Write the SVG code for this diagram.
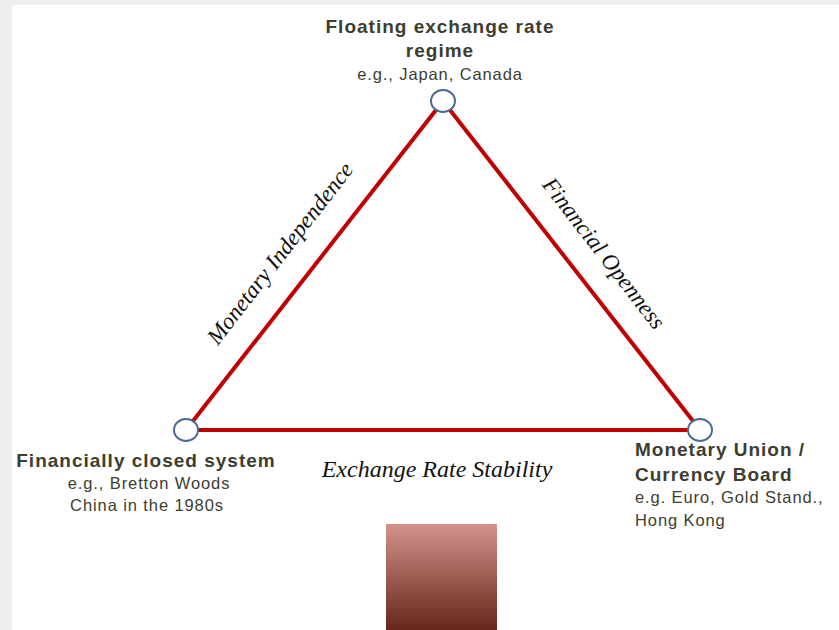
<svg xmlns="http://www.w3.org/2000/svg" width="839" height="630" viewBox="0 0 839 630">
  <style>
    .title { font-family: "Liberation Sans", Arial, sans-serif; font-weight: bold; font-size: 19px; letter-spacing: 1px; fill: #3d3d30; }
    .sub { font-family: "Liberation Sans", Arial, sans-serif; font-size: 16.5px; letter-spacing: 0.9px; fill: #3d3d30; }
    .edge-label { font-family: "Liberation Serif", "Times New Roman", serif; font-style: italic; font-size: 23px; fill: #111; }
    .edge { stroke: #c00000; stroke-width: 4; stroke-linecap: round; fill: none; }
    .node { fill: #ffffff; stroke: #4a6a96; stroke-width: 2; }
  </style>
  <defs>
    <linearGradient id="boxFill" x1="0" y1="0" x2="0" y2="1">
      <stop offset="0" stop-color="#d4938b"/>
      <stop offset="1" stop-color="#66261a"/>
    </linearGradient>
  </defs>

  <!-- page background and panel -->
  <rect x="0" y="0" width="839" height="630" fill="#eeeeee"/>
  <rect x="12" y="5" width="827" height="625" fill="#ffffff"/>

  <!-- triangle sides -->
  <g id="connectors">
    <line class="edge" x1="436" y1="110" x2="193" y2="421"/>
    <line class="edge" x1="450" y1="110" x2="693" y2="421"/>
    <line class="edge" x1="198" y1="430" x2="688" y2="430"/>
    <text class="edge-label" transform="translate(286,258) rotate(-52.2)" text-anchor="middle">Monetary Independence</text>
    <text class="edge-label" transform="translate(598,258) rotate(52.2)" text-anchor="middle">Financial Openness</text>
    <text class="edge-label" x="437" y="477" text-anchor="middle" style="font-size:24px">Exchange Rate Stability</text>
  </g>

  <g id="floating">
    <ellipse class="node" cx="443" cy="101" rx="12" ry="11"/>
    <text class="title" x="440" y="33" text-anchor="middle">Floating exchange rate</text>
    <text class="title" x="440" y="57" text-anchor="middle">regime</text>
    <text class="sub" x="440" y="80" text-anchor="middle">e.g., Japan, Canada</text>
  </g>

  <g id="closed">
    <ellipse class="node" cx="186" cy="430" rx="12" ry="11"/>
    <text class="title" x="146" y="467" text-anchor="middle">Financially closed system</text>
    <text class="sub" x="149" y="489" text-anchor="middle">e.g., Bretton Woods</text>
    <text class="sub" x="147" y="511" text-anchor="middle">China in the 1980s</text>
  </g>

  <g id="union">
    <ellipse class="node" cx="700" cy="430" rx="12" ry="11"/>
    <text class="title" x="635" y="456">Monetary Union /</text>
    <text class="title" x="635" y="481">Currency Board</text>
    <text class="sub" x="635" y="503">e.g. Euro, Gold Stand.,</text>
    <text class="sub" x="635" y="526">Hong Kong</text>
  </g>

  <g id="swatch">
    <rect x="386" y="524" width="111" height="106" fill="url(#boxFill)"/>
  </g>
</svg>
